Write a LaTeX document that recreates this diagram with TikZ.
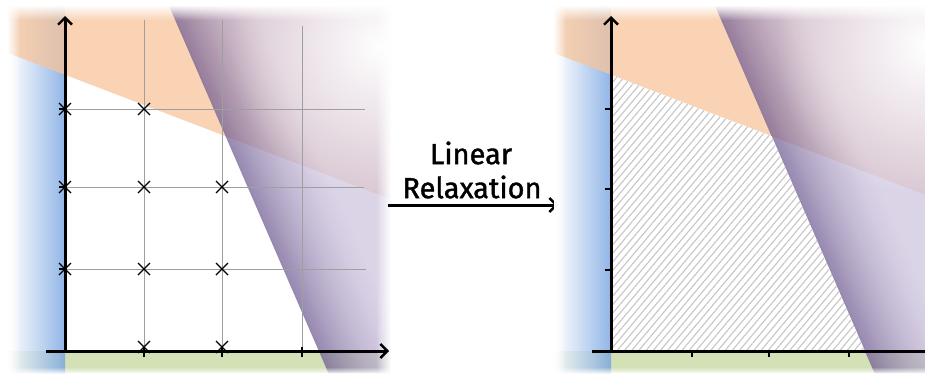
\documentclass[tikz,border=0pt]{standalone}
\usepackage{fontspec}
\newfontfamily\comicfont[FakeBold=1.3]{Fira Sans}
\usetikzlibrary{arrows.meta,patterns.meta,fadings}
\definecolor{greenc}{RGB}{211,225,183}
\definecolor{bluec}{RGB}{118,163,224}
\definecolor{orangec}{RGB}{247,196,155}
\definecolor{purpd}{RGB}{112,92,145}
\definecolor{purpl}{RGB}{205,195,222}
\tikzfading[name=wtop, top color=transparent!0, bottom color=transparent!100]
\tikzfading[name=wbot, top color=transparent!100, bottom color=transparent!0]
\tikzfading[name=wleft, left color=transparent!0, right color=transparent!100]
\tikzfading[name=wright, left color=transparent!100, right color=transparent!0]
\tikzfading[name=radw, inner color=transparent!0, outer color=transparent!100]
\tikzset{
  axisline/.style={line width=3pt, -{Straight Barb[length=7pt,width=14pt,line width=2.4pt]}},
  gridline/.style={gray!75, line width=0.9pt},
  tickline/.style={line width=2.2pt},
  xmark/.style={line width=1.3pt},
  lbl/.style={font=\comicfont\fontsize{29}{32}\selectfont, inner sep=0pt},
  bigarrow/.style={line width=3pt, -{Straight Barb[length=7pt,width=14pt,line width=2.4pt]}},
  hatch/.style={pattern={Lines[angle=50,distance=5.5pt,line width=1.1pt]}, pattern color=gray!45}
}
\newcommand\panelbg{%
  \begin{scope}
    \clip (8,3) rectangle (390,370);
    \fill[greenc] (8,3) rectangle (390,25);
    \shade[left color=white, right color=bluec, opacity=0.8] (8,3) rectangle (65,370);
    \fill[orangec, opacity=0.75] (8,323) -- (390,177) -- (390,370) -- (8,370) -- cycle;
    \begin{scope}[transparency group, opacity=0.72]
      \fill[purpl] (169.1,370) -- (328.4,3) -- (392,3) -- (392,370) -- cycle;
      \foreach \i in {0,...,35}{
        \pgfmathtruncatemacro\c{100*(1-\i/36)^1.6}
        \fill[purpd!\c!purpl] (169.1+\i*2.5,370) -- (328.4+\i*2.5,3) -- (331.4+\i*2.5,3) -- (172.1+\i*2.5,370) -- cycle;
      }
    \end{scope}
    \fill[white, path fading=wtop] (8,356) rectangle (390,371);
    \fill[white, path fading=wbot] (8,2) rectangle (390,9);
    \fill[white, path fading=wleft] (7,3) rectangle (20,370);
    \fill[white, path fading=radw] (230,180) rectangle (530,480);
  \end{scope}}
\begin{document}
\begin{tikzpicture}[x=1pt,y=1pt]
\useasboundingbox (0,0) rectangle (925,376);
% ---------- left panel ----------
\panelbg
\fill[white, path fading=wright] (376,0) rectangle (391,376);
\foreach \x/\t in {144/356,222/356,302/350}{
  \draw[gridline] (\x,25) -- (\x,\t);
}
\foreach \y/\r in {267/365,189/364,107/366}{
  \draw[gridline] (65,\y) -- (\r,\y);
}
\foreach \y in {267,189,107}{ \draw[tickline] (59,\y) -- (65,\y); }
\foreach \x in {144,222,302}{ \draw[tickline] (\x,19) -- (\x,29); }
\draw[axisline] (46,25) -- (389,25);
\draw[axisline] (65,25) -- (65,360);
\foreach \p in {(65,267),(144,267),(65,189),(144,189),(222,189),(65,107),(144,107),(222,107),(144,29),(222,29)}{
  \draw[xmark] \p ++(-6,-6) -- ++(12,12) \p ++(-6,6) -- ++(12,-12);
}
% ---------- middle ----------
\node[lbl] (lin) at (471,223) {Linear};
\node[lbl] (rel) at (472,189) {Relaxation};
\coordinate (a0) at (388,171);
\coordinate (a1) at (558,171);
\draw[bigarrow] (a0) -- (a1);
% ---------- right panel ----------
\begin{scope}[xshift=546pt]
  \panelbg
  \coordinate (o) at (65,25);
  \coordinate (oy) at (65,301);
  \coordinate (px) at (318.9,25);
  \fill[white] (o) -- (oy) -- (intersection of 65,301--390,177 and 170,368--328,4) -- (px) -- cycle;
  \fill[hatch] (o) -- (oy) -- (intersection of 65,301--390,177 and 170,368--328,4) -- (px) -- cycle;
  \foreach \y in {267,187,106}{ \draw[tickline] (59,\y) -- (65,\y); }
  \foreach \x in {146,223,303}{ \draw[tickline] (\x,19) -- (\x,25); }
  \draw[axisline] (46,25) -- (389,25);
  \draw[axisline] (65,25) -- (65,360);
\end{scope}
\end{tikzpicture}
\end{document}
